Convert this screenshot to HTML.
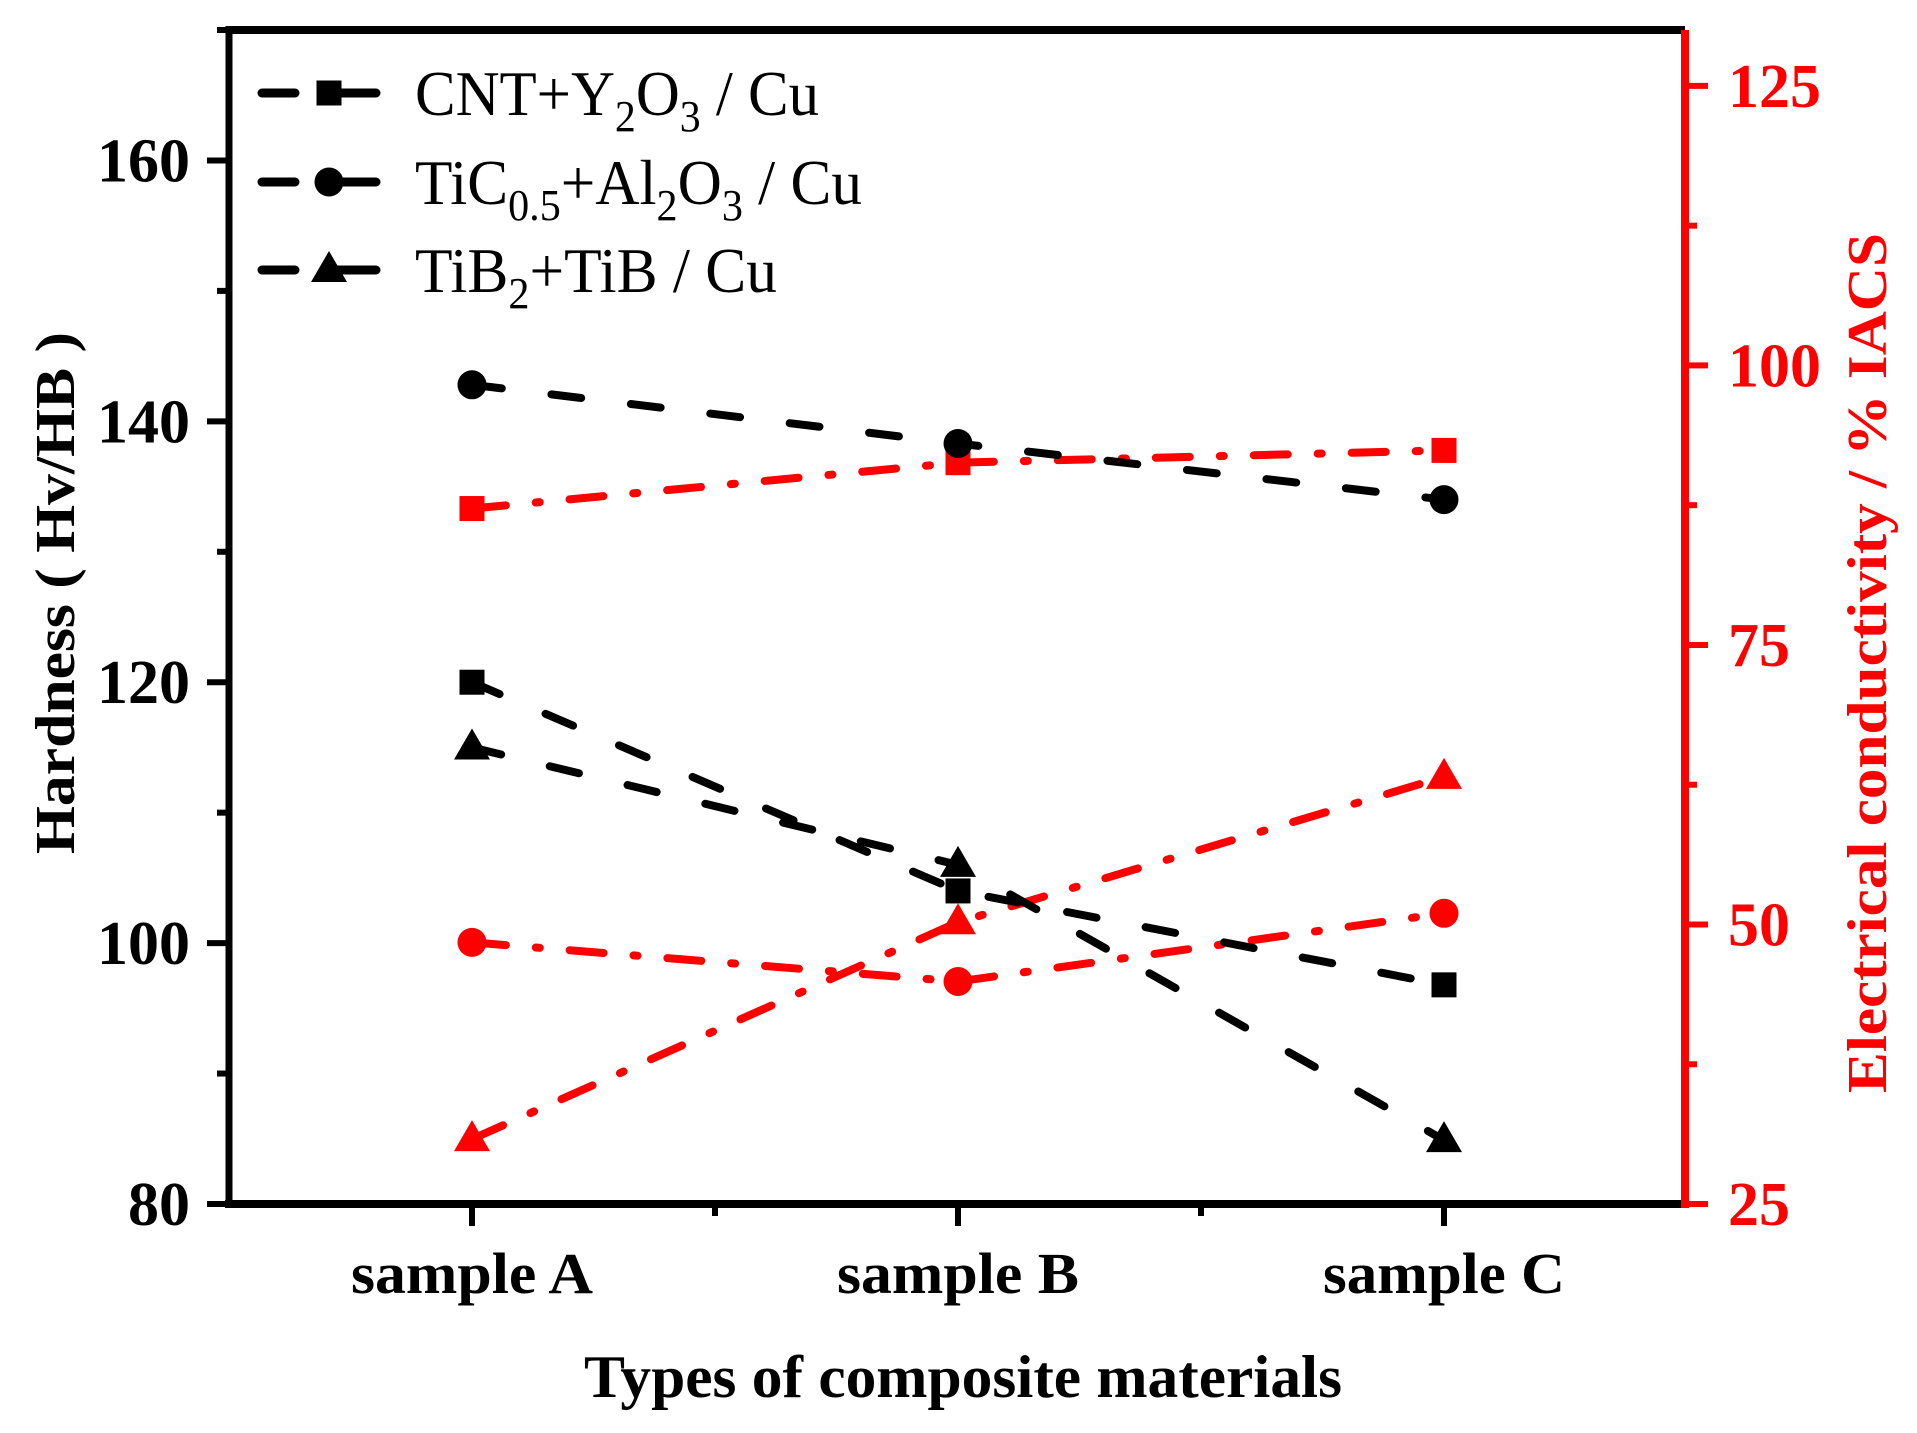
<!DOCTYPE html>
<html><head><meta charset="utf-8">
<style>
html,body{margin:0;padding:0;background:#fff;}
svg{display:block;}
text{font-family:"Liberation Serif","DejaVu Serif",serif;}
</style></head>
<body>
<svg id="chart" width="1917" height="1433" viewBox="0 0 1917 1433" xmlns="http://www.w3.org/2000/svg">
<rect x="0" y="0" width="1917" height="1433" fill="#fff"/>
<g id="axes"></g>
<g id="series"></g>
<g id="legend"></g>
</svg>
<script>
const categories = ["sample A", "sample B", "sample C"];
const seriesNames = ["CNT+Y2O3 / Cu", "TiC0.5+Al2O3 / Cu", "TiB2+TiB / Cu"];
const hardnessCNT = [120, 104, 96.8];
const hardnessTiC = [142.8, 138.3, 134];
const hardnessTiB = [115, 106, 84.9];
const condCNT = [87.2, 91.3, 92.4];
const condTiC = [48.4, 44.9, 51.0];
const condTiB = [30.8, 50.2, 63.2];
const leftTicks = [80, 100, 120, 140, 160];
const rightTicks = [25, 50, 75, 100, 125];

const NS = "http://www.w3.org/2000/svg";
const L = 229, R = 1685, T = 30, B = 1204;
function xPos(i){ return 472 + 486 * i; }
function yLeft(v){ return B - (v - 80) / 90 * (B - T); }
function yRight(v){ return B - (v - 25) / 105 * (B - T); }
function mk(tag, attrs, parent){
  const e = document.createElementNS(NS, tag);
  for (const k in attrs) e.setAttribute(k, attrs[k]);
  parent.appendChild(e);
  return e;
}
const axes = document.getElementById('axes');
const series = document.getElementById('series');
const legend = document.getElementById('legend');

// frame
let e;
e = mk('line', {x1:L, y1:T, x2:R, y2:T, stroke:'#000', 'stroke-width':8}, axes);


e = mk('line', {x1:L-4, y1:B, x2:R, y2:B, stroke:'#000', 'stroke-width':8}, axes);


e = mk('line', {x1:L, y1:T-4, x2:L, y2:B+4, stroke:'#000', 'stroke-width':7}, axes);


e = mk('line', {x1:R, y1:T, x2:R, y2:B+4, stroke:'#f00', 'stroke-width':8}, axes);



// left ticks
for (let v = 80; v <= 170; v += 10) {
  const major = (v % 20 === 0);
  e = mk('line', {x1:L - (major ? 22 : 12), y1:yLeft(v), x2:L, y2:yLeft(v), stroke:'#000', 'stroke-width':6}, axes);
  
  
}
leftTicks.forEach(v => {
  e = mk('text', {x:190, y:yLeft(v) + 21, 'text-anchor':'end', 'font-size':62, 'font-weight':'bold', fill:'#000'}, axes);
  e.textContent = v;
  
  
});
// right ticks
for (let v = 25; v <= 130; v += 12.5) {
  const major = (Math.abs(v % 25) < 0.01);
  e = mk('line', {x1:R, y1:yRight(v), x2:R + (major ? 23 : 12), y2:yRight(v), stroke:'#f00', 'stroke-width':6}, axes);
  
  
}
rightTicks.forEach(v => {
  e = mk('text', {x:1728, y:yRight(v) + 21, 'font-size':62, 'font-weight':'bold', fill:'#f00'}, axes);
  e.textContent = v;
  
  
});
// x ticks
categories.forEach((c, i) => {
  e = mk('line', {x1:xPos(i), y1:B, x2:xPos(i), y2:B + 22, stroke:'#000', 'stroke-width':6}, axes);
  
  
  if (i < categories.length - 1) {
    e = mk('line', {x1:xPos(i + 0.5), y1:B, x2:xPos(i + 0.5), y2:B + 12, stroke:'#000', 'stroke-width':6}, axes);
    
    
  }
  e = mk('text', {x:xPos(i), y:1293, 'text-anchor':'middle', 'font-size':58, 'font-weight':'bold', textLength:242, lengthAdjust:'spacingAndGlyphs'}, axes);
  e.textContent = c;
  
  
});
// axis titles
e = mk('text', {x:963, y:1397, 'text-anchor':'middle', 'font-size':60, 'font-weight':'bold', textLength:758, lengthAdjust:'spacingAndGlyphs'}, axes);
e.textContent = 'Types of composite materials';


e = mk('text', {x:0, y:0, 'text-anchor':'middle', 'font-size':56, 'font-weight':'bold', textLength:522, lengthAdjust:'spacingAndGlyphs', transform:'translate(74,593) rotate(-90)'}, axes);
e.textContent = 'Hardness ( Hv/HB )';


e = mk('text', {x:0, y:0, 'text-anchor':'middle', 'font-size':56, 'font-weight':'bold', fill:'#f00', textLength:860, lengthAdjust:'spacingAndGlyphs', transform:'translate(1886,663) rotate(-90)'}, axes);
e.textContent = 'Electrical conductivity / % IACS';



function marker(shape, x, y, color, parent, name){
  let m;
  if (shape === 'square') m = mk('rect', {x:x-12.5, y:y-12.5, width:25, height:25, fill:color}, parent);
  else if (shape === 'circle') m = mk('circle', {cx:x, cy:y, r:14.5, fill:color}, parent);
  else m = mk('polygon', {points:`${x},${y-19} ${x-18},${y+12} ${x+18},${y+12}`, fill:color}, parent);
  
  
}
function drawSeries(vals, yf, color, dash, shape, name){
  const pts = vals.map((v, i) => xPos(i) + ',' + yf(v)).join(' ');
  const pl = mk('polyline', {points:pts, fill:'none', stroke:color, 'stroke-width':8, 'stroke-dasharray':dash, 'stroke-linecap':'round'}, series);
  
  
  vals.forEach((v, i) => marker(shape, xPos(i), yf(v), color, series, name + '-point'));
}
const blackDash = '30 50';
const redDash = '34 30 4 30';
drawSeries(condCNT, yRight, '#f00', redDash, 'square', 'conductivity-cnt');
drawSeries(condTiC, yRight, '#f00', redDash, 'circle', 'conductivity-tic');
drawSeries(condTiB, yRight, '#f00', redDash, 'triangle', 'conductivity-tib');
drawSeries(hardnessCNT, yLeft, '#000', blackDash, 'square', 'hardness-cnt');
drawSeries(hardnessTiC, yLeft, '#000', blackDash, 'circle', 'hardness-tic');
drawSeries(hardnessTiB, yLeft, '#000', blackDash, 'triangle', 'hardness-tib');

// legend
const legendRows = [
  {shape:'square', y:93, w:404, html:[['CNT+Y',0],['2',1],['O',0],['3',1],[' / Cu',0]]},
  {shape:'circle', y:182, w:447, html:[['TiC',0],['0.5',1],['+Al',0],['2',1],['O',0],['3',1],[' / Cu',0]]},
  {shape:'triangle', y:270, w:362, html:[['TiB',0],['2',1],['+TiB / Cu',0]]}
];
legendRows.forEach((r, idx) => {
  const g = mk('g', {}, legend);
  
  
  e = mk('line', {x1:262, y1:r.y, x2:295, y2:r.y, stroke:'#000', 'stroke-width':9, 'stroke-linecap':'round'}, g);
  
  
  e = mk('line', {x1:329, y1:r.y, x2:376, y2:r.y, stroke:'#000', 'stroke-width':9, 'stroke-linecap':'round'}, g);
  
  
  marker(r.shape, 329, r.y, '#000', g, 'legend-marker');
  const t = mk('text', {x:415, y:r.y + 22, 'font-size':64, fill:'#000', textLength:r.w, lengthAdjust:'spacingAndGlyphs'}, g);
  
  
  r.html.forEach(([s, sub]) => {
    const ts = mk('tspan', sub ? {'font-size':44, dy:16} : {dy:0}, t);
    ts.textContent = s;
    if (sub) {
      // reset baseline after subscript
      ts.setAttribute('data-sub', '1');
    }
  });
  // fix dy resets
  const spans = t.querySelectorAll('tspan');
  let prevSub = false;
  spans.forEach(s => {
    const isSub = s.getAttribute('data-sub') === '1';
    if (isSub && !prevSub) s.setAttribute('dy', 16);
    else if (isSub && prevSub) s.setAttribute('dy', 0);
    else if (!isSub && prevSub) s.setAttribute('dy', -16);
    else s.setAttribute('dy', 0);
    prevSub = isSub;
  });
});
</script>
</body></html>
